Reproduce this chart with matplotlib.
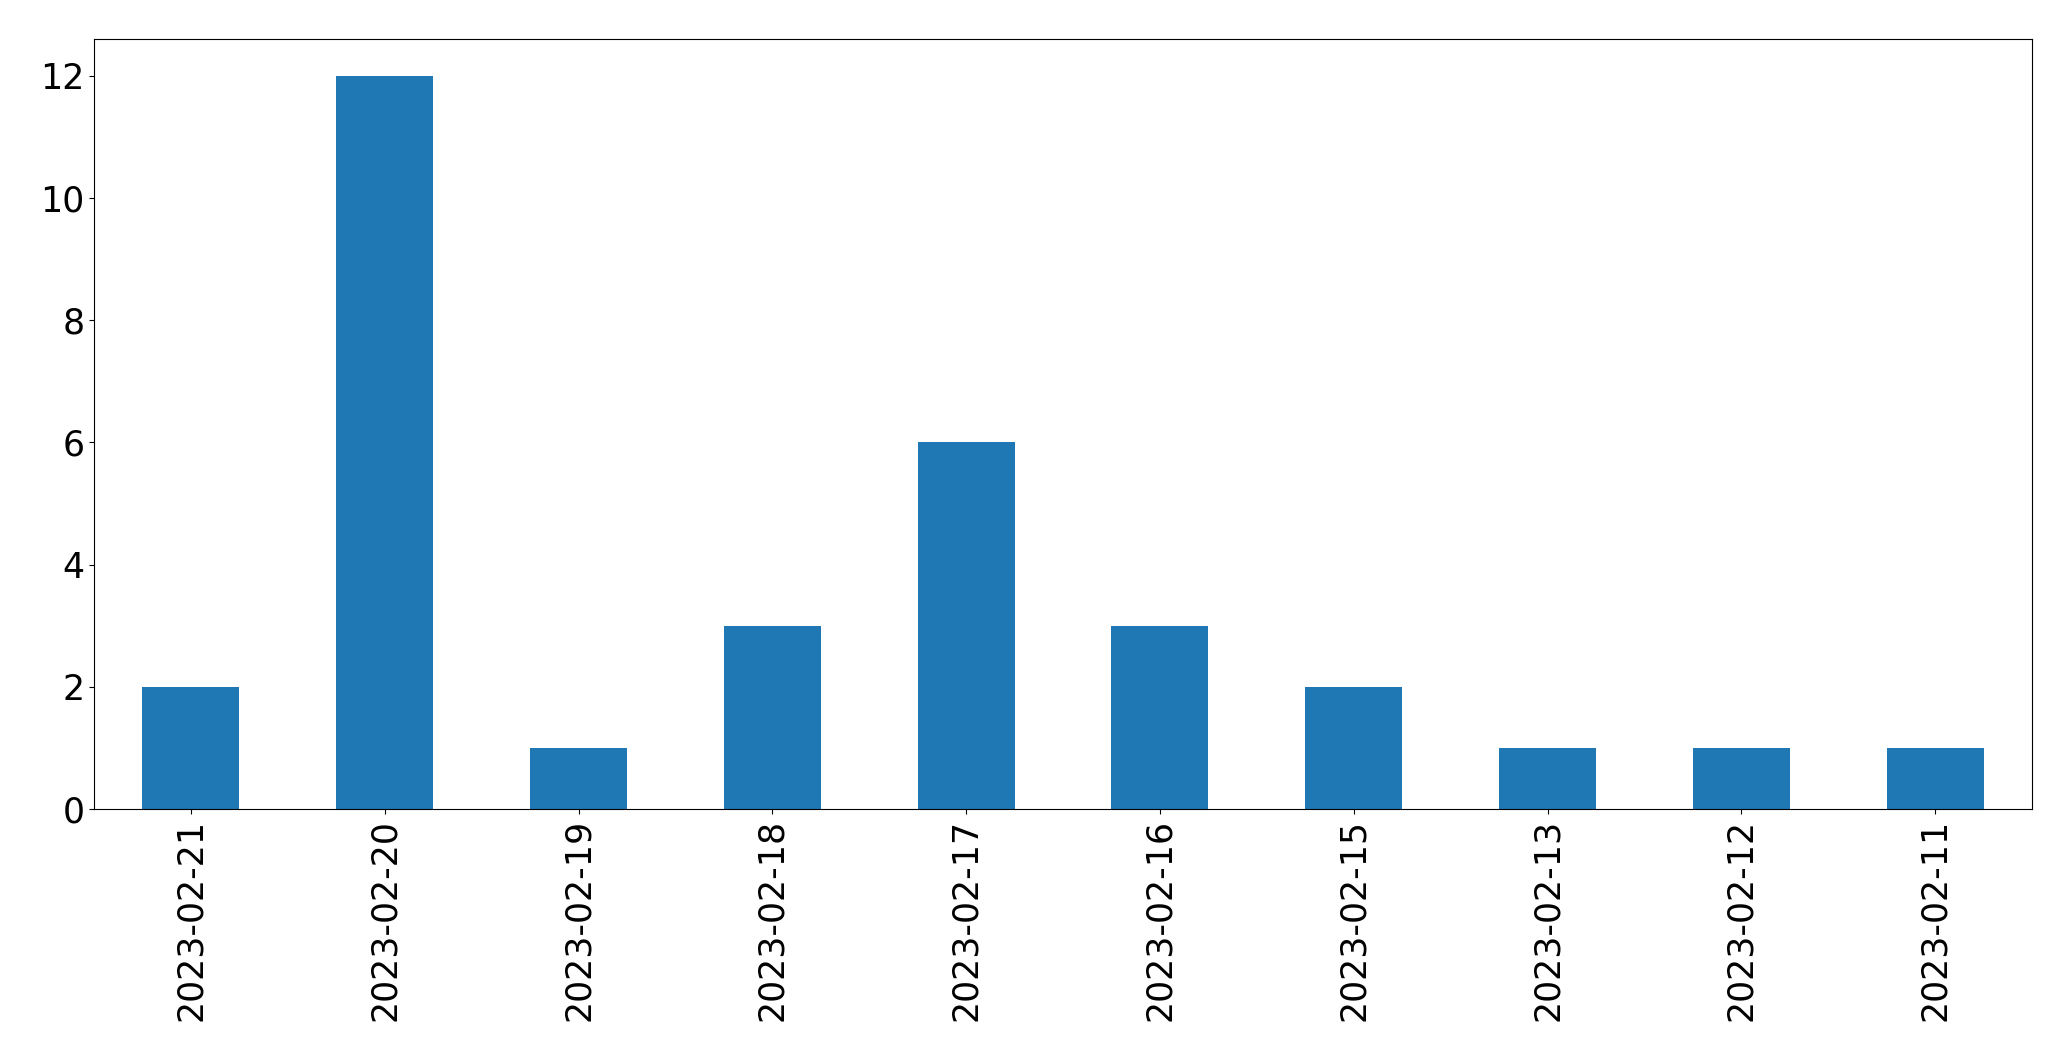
import matplotlib
matplotlib.use("Agg")
import matplotlib.pyplot as plt
import pandas as pd

dates = ["2023-02-21", "2023-02-20", "2023-02-19", "2023-02-18", "2023-02-17",
         "2023-02-16", "2023-02-15", "2023-02-13", "2023-02-12", "2023-02-11"]
counts = [2, 12, 1, 3, 6, 3, 2, 1, 1, 1]

s = pd.Series(counts, index=dates)

fig, ax = plt.subplots(figsize=(20.71, 10.61), dpi=100)
s.plot(kind="bar", ax=ax, color="#1f77b4", fontsize=25)
ax.tick_params(axis="both", labelsize=25)
fig.subplots_adjust(left=0.0454, right=0.9812, top=0.9632, bottom=0.2375)
fig.savefig("out.png", dpi=100)
